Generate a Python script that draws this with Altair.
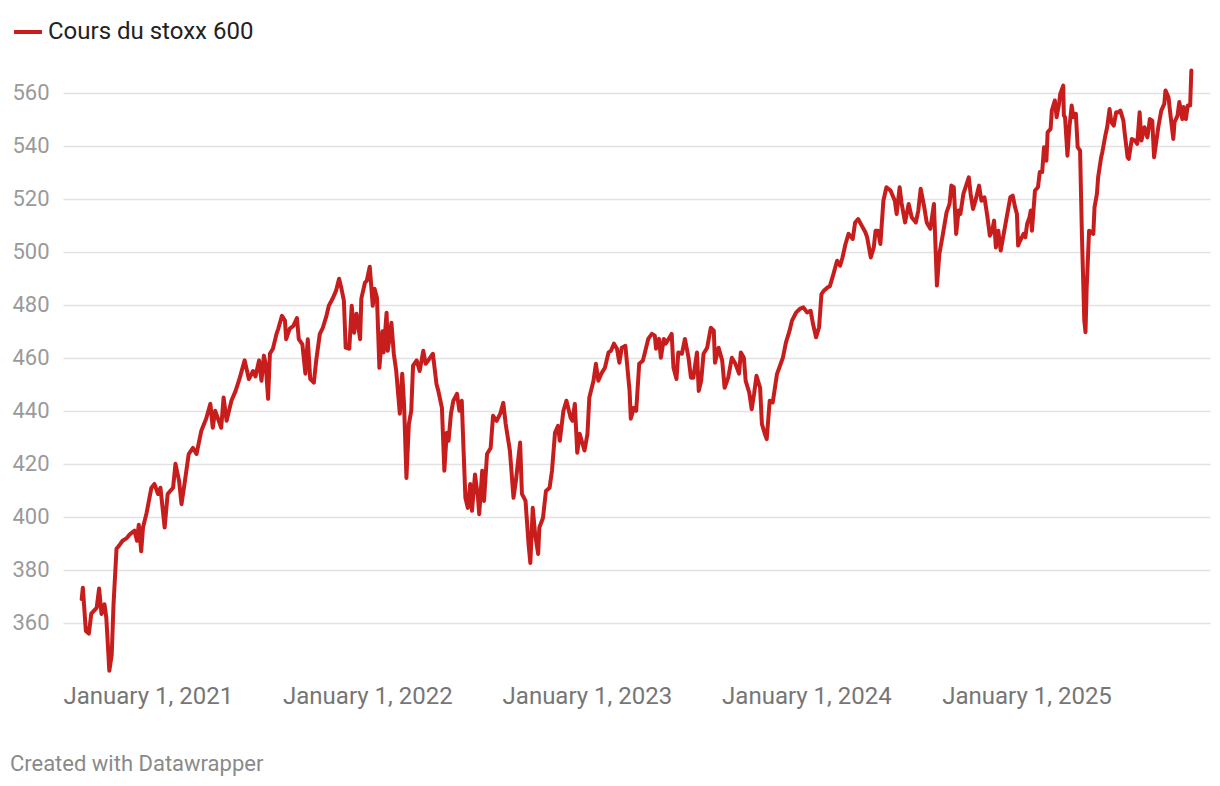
import altair as alt
import pandas as pd

series_name = "Cours du stoxx 600"
credit = "Created with Datawrapper"

dates = [
    # 2020
    "2020-09-13", "2020-09-15", "2020-09-20", "2020-09-25", "2020-09-29", "2020-10-08",
    "2020-10-12", "2020-10-16", "2020-10-21", "2020-10-24", "2020-10-29", "2020-11-02",
    "2020-11-05", "2020-11-10", "2020-11-16", "2020-11-20", "2020-11-27", "2020-12-02",
    "2020-12-10", "2020-12-14", "2020-12-17", "2020-12-21", "2020-12-24", "2020-12-30",
    # 2021
    "2021-01-07", "2021-01-12", "2021-01-18", "2021-01-22", "2021-01-29", "2021-02-03",
    "2021-02-12", "2021-02-16", "2021-02-22", "2021-02-26", "2021-03-03", "2021-03-10",
    "2021-03-17", "2021-03-23", "2021-03-31", "2021-04-08", "2021-04-15", "2021-04-19",
    "2021-04-23", "2021-05-03", "2021-05-07", "2021-05-12", "2021-05-20", "2021-05-27",
    "2021-06-03", "2021-06-11", "2021-06-18", "2021-06-25", "2021-06-29", "2021-07-05",
    "2021-07-09", "2021-07-13", "2021-07-16", "2021-07-20", "2021-07-23", "2021-07-28",
    "2021-08-03", "2021-08-06", "2021-08-12", "2021-08-17", "2021-08-19", "2021-08-25",
    "2021-08-31", "2021-09-06", "2021-09-09", "2021-09-15", "2021-09-20", "2021-09-24",
    "2021-09-28", "2021-10-04", "2021-10-08", "2021-10-14", "2021-10-19", "2021-10-25",
    "2021-10-29", "2021-11-05", "2021-11-10", "2021-11-15", "2021-11-19", "2021-11-23",
    "2021-11-26", "2021-12-02", "2021-12-06", "2021-12-10", "2021-12-14", "2021-12-20",
    "2021-12-22", "2021-12-28", "2021-12-31",
    # 2022
    "2022-01-05", "2022-01-10", "2022-01-13", "2022-01-17", "2022-01-21", "2022-01-26",
    "2022-01-28", "2022-02-02", "2022-02-04", "2022-02-10", "2022-02-14", "2022-02-18",
    "2022-02-24", "2022-02-28", "2022-03-03", "2022-03-07", "2022-03-11", "2022-03-15",
    "2022-03-18", "2022-03-24", "2022-03-29", "2022-04-04", "2022-04-08", "2022-04-14",
    "2022-04-20", "2022-04-26", "2022-04-29", "2022-05-05", "2022-05-09", "2022-05-13",
    "2022-05-16", "2022-05-20", "2022-05-24", "2022-05-30", "2022-06-03", "2022-06-07",
    "2022-06-10", "2022-06-13", "2022-06-17", "2022-06-21", "2022-06-24", "2022-06-29",
    "2022-07-04", "2022-07-06", "2022-07-11", "2022-07-14", "2022-07-19", "2022-07-25",
    "2022-07-29", "2022-08-04", "2022-08-10", "2022-08-15", "2022-08-19", "2022-08-26",
    "2022-09-01", "2022-09-05", "2022-09-12", "2022-09-15", "2022-09-21", "2022-09-26",
    "2022-09-29", "2022-10-03", "2022-10-07", "2022-10-12", "2022-10-14", "2022-10-20",
    "2022-10-25", "2022-10-31", "2022-11-04", "2022-11-09", "2022-11-14", "2022-11-17",
    "2022-11-23", "2022-11-28", "2022-12-05", "2022-12-08", "2022-12-12", "2022-12-16",
    "2022-12-20", "2022-12-28",
    # 2023
    "2023-01-02", "2023-01-05", "2023-01-12", "2023-01-16", "2023-01-20", "2023-01-25",
    "2023-01-31", "2023-02-06", "2023-02-10", "2023-02-15", "2023-02-20", "2023-02-24",
    "2023-02-28", "2023-03-06", "2023-03-08", "2023-03-13", "2023-03-15", "2023-03-20",
    "2023-03-24", "2023-03-29", "2023-04-04", "2023-04-07", "2023-04-13", "2023-04-19",
    "2023-04-24", "2023-04-26", "2023-05-01", "2023-05-04", "2023-05-09", "2023-05-12",
    "2023-05-17", "2023-05-22", "2023-05-25", "2023-05-30", "2023-06-02", "2023-06-08",
    "2023-06-13", "2023-06-19", "2023-06-23", "2023-06-27", "2023-07-03", "2023-07-06",
    "2023-07-10", "2023-07-14", "2023-07-20", "2023-07-26", "2023-07-31", "2023-08-02",
    "2023-08-08", "2023-08-14", "2023-08-18", "2023-08-24", "2023-08-30", "2023-09-05",
    "2023-09-11", "2023-09-14", "2023-09-19", "2023-09-22", "2023-09-28", "2023-10-02",
    "2023-10-06", "2023-10-10", "2023-10-16", "2023-10-19", "2023-10-24", "2023-10-27",
    "2023-11-01", "2023-11-06", "2023-11-13", "2023-11-17", "2023-11-23", "2023-11-28",
    "2023-12-04", "2023-12-08", "2023-12-15", "2023-12-21", "2023-12-27",
    # 2024
    "2024-01-02", "2024-01-08", "2024-01-12", "2024-01-17", "2024-01-22", "2024-01-26",
    "2024-01-30", "2024-02-05", "2024-02-09", "2024-02-15", "2024-02-21", "2024-02-26",
    "2024-03-01", "2024-03-06", "2024-03-11", "2024-03-18", "2024-03-22", "2024-03-27",
    "2024-04-02", "2024-04-08", "2024-04-11", "2024-04-17", "2024-04-22", "2024-04-25",
    "2024-04-29", "2024-05-03", "2024-05-08", "2024-05-13", "2024-05-20", "2024-05-27",
    "2024-05-30", "2024-06-04", "2024-06-07", "2024-06-13", "2024-06-19", "2024-06-24",
    "2024-07-01", "2024-07-05", "2024-07-09", "2024-07-15", "2024-07-19", "2024-07-25",
    "2024-07-31", "2024-08-05", "2024-08-09", "2024-08-15", "2024-08-21", "2024-08-26",
    "2024-08-29", "2024-09-02", "2024-09-06", "2024-09-10", "2024-09-13", "2024-09-18",
    "2024-09-27", "2024-09-30", "2024-10-04", "2024-10-08", "2024-10-14", "2024-10-18",
    "2024-10-23", "2024-10-28", "2024-11-01", "2024-11-05", "2024-11-08", "2024-11-11",
    "2024-11-15", "2024-11-19", "2024-11-25", "2024-11-29", "2024-12-05", "2024-12-09",
    "2024-12-13", "2024-12-16", "2024-12-18", "2024-12-20", "2024-12-27", "2024-12-30",
    # 2025
    "2025-01-02", "2025-01-06", "2025-01-08", "2025-01-10", "2025-01-15", "2025-01-20",
    "2025-01-23", "2025-01-27", "2025-01-30", "2025-02-03", "2025-02-05", "2025-02-10",
    "2025-02-12", "2025-02-17", "2025-02-20", "2025-02-24", "2025-02-26", "2025-03-03",
    "2025-03-04", "2025-03-06", "2025-03-10", "2025-03-13", "2025-03-17", "2025-03-20",
    "2025-03-24", "2025-03-27", "2025-03-31", "2025-04-03", "2025-04-07", "2025-04-09",
    "2025-04-11", "2025-04-15", "2025-04-22", "2025-04-24", "2025-04-28", "2025-04-30",
    "2025-05-05", "2025-05-07", "2025-05-12", "2025-05-15", "2025-05-19", "2025-05-22",
    "2025-05-26", "2025-05-30", "2025-06-03", "2025-06-06", "2025-06-11", "2025-06-13",
    "2025-06-18", "2025-06-20", "2025-06-25", "2025-06-30", "2025-07-04", "2025-07-08",
    "2025-07-11", "2025-07-16", "2025-07-21", "2025-07-25", "2025-07-29", "2025-08-01",
    "2025-08-05", "2025-08-08", "2025-08-13", "2025-08-18", "2025-08-20", "2025-08-25",
    "2025-08-28", "2025-09-02", "2025-09-04", "2025-09-09", "2025-09-12", "2025-09-17",
    "2025-09-19", "2025-09-23", "2025-09-26", "2025-09-30", "2025-10-02",
]

values = [
    # 2020
    369, 373.3, 357, 356, 363.5, 365.7,
    373, 363.4, 367, 362, 342, 348,
    367, 388, 389.7, 391, 392, 393.4,
    394.8, 391, 397, 387, 396, 401.5,
    # 2021
    411, 412.4, 408.6, 411, 396, 408.6,
    411, 420, 413.6, 404.8, 412.4, 423.7,
    426, 423.7, 432.5, 437, 442.6, 433.6,
    440, 433.6, 445, 436.2, 443.8, 447.5,
    452.5, 459, 452, 455, 453, 459,
    451.3, 460.8, 457.7, 444.5, 461.5, 463.4,
    469, 471, 475.8, 474, 467, 471,
    472, 475, 467, 465, 454, 467,
    452, 450.6, 459, 469, 471.3, 475.8,
    479.6, 482.6, 485.3, 489.8, 486, 481.5,
    463.8, 463.4, 479.6, 469.4, 476.6, 467,
    482.3, 488.3, 489,
    # 2022
    494.3, 479.6, 486, 482.6, 456.2, 470,
    462, 477, 462.6, 473.2, 461.5, 455,
    438.9, 454, 442.6, 414.7, 435, 440,
    457, 459, 455, 462.6, 457.7, 459.6,
    461.5, 450, 447.5, 441.1, 417.4, 431.7,
    428.7, 438.9, 443.8, 446.4, 440, 443.8,
    425, 407.2, 403.4, 412.4, 402.3, 416,
    407.2, 401, 417.4, 406, 423.7, 426,
    438.1, 436.2, 438.9, 443, 435, 425,
    407.2, 413.6, 428, 408.7, 406, 389.8,
    382.6, 403.4, 393.4, 386, 396, 399.6,
    409.8, 411, 417.4, 431.7, 434.3, 428.7,
    440, 443.8, 437.4, 436.2, 442.6, 424.2,
    431.3, 425,
    # 2023
    431.3, 444.9, 451.3, 457.7, 451.3, 454,
    456.2, 462, 462.6, 465.3, 463.4, 458.1,
    463.8, 464.5, 459.6, 447.5, 437, 441.1,
    440, 457.7, 458.9, 461.5, 467.1, 469,
    468.3, 463.4, 467.1, 460, 467.1, 465.3,
    467.1, 469, 456.2, 452, 462, 461.5,
    467.1, 460, 452.5, 452.5, 462, 447.5,
    451.3, 461.5, 463.8, 471.3, 470.2, 458.1,
    463.8, 458.9, 448.7, 452.5, 460, 457.7,
    454, 462, 460, 451.3, 446.8, 440.6,
    446.4, 453.2, 448.7, 435, 431.2, 429.3,
    443.8, 443.1, 453.8, 456.3, 460.1, 465.8,
    470.2, 474, 477.1, 478.4, 479,
    # 2024
    477.1, 477.7, 472.7, 467.7, 471.4, 484,
    485.3, 486.5, 487, 491.6, 496.6, 494.7,
    497.8, 502.9, 506.7, 504.8, 511, 512.3,
    509.8, 507.3, 505.4, 497.8, 501.6, 507.9,
    507.9, 502.9, 519.2, 524.3, 523, 519.2,
    514.2, 524.3, 518.6, 511, 518, 513,
    511, 515.5, 523.7, 516.7, 511, 508.6,
    518, 487.2, 499.1, 506.7, 514.8, 518,
    524.9, 524.3, 506.7, 515.5, 514.2, 521.8,
    528, 521.8, 516.1, 519.2, 524.9, 519.2,
    520.5, 513, 506, 507.9, 511.7, 501.6,
    507.9, 500.4, 507.9, 513, 520.5, 521.1,
    516.7, 514.2, 502.3, 503.5, 506.7, 505.4,
    # 2025
    510.5, 513, 515.5, 507.9, 523, 524.3,
    530, 530, 539.4, 534.3, 545, 546.3,
    553.2, 557, 550.7, 555.7, 559.5, 562.6,
    551.3, 550.7, 536.2, 546.3, 555.1, 550.7,
    552, 539.4, 538.1, 506.7, 474, 469.6,
    486.5, 507.9, 506.7, 516.7, 521.8, 528,
    535.6, 537.5, 543.8, 546.9, 553.8, 548.8,
    547.5, 552.6, 552.6, 553.2, 549.4, 545,
    535.6, 535, 542.5, 541.9, 540.6, 552.6,
    541.9, 546.9, 543.1, 550, 549.4, 535.6,
    541.9, 546.9, 553.2, 555.7, 560.8, 558.2,
    552, 542.5, 548.8, 551.3, 556.4, 550,
    554.5, 550, 555.1, 555.1, 568.3,
]

y_ticks = [360, 380, 400, 420, 440, 460, 480, 500, 520, 540, 560]
x_tick_years = [2021, 2022, 2023, 2024, 2025]

df = pd.DataFrame({"date": dates, "value": values})
df["serie"] = series_name

x_ticks = [alt.DateTime(year=yr, month=1, date=1, utc=True) for yr in x_tick_years]
x_domain = [alt.DateTime(year=2020, month=8, date=13, utc=True),
            alt.DateTime(year=2025, month=11, date=2, utc=True)]

FONT = "Roboto"

chart = alt.Chart(df).mark_line(
    strokeWidth=4, strokeJoin="round", strokeCap="round"
).encode(
    x=alt.X(
        "date:T",
        scale=alt.Scale(type="utc", domain=x_domain),
        axis=alt.Axis(
            values=x_ticks,
            labelExpr="utcFormat(datum.value, '%B %-d, %Y')",
            grid=False, ticks=False, domain=False,
            labelFontSize=24, labelColor="#767676", labelFont=FONT,
            labelPadding=8, title=None,
        ),
    ),
    y=alt.Y(
        "value:Q",
        scale=alt.Scale(domain=[340, 570], nice=False, zero=False),
        axis=alt.Axis(
            values=y_ticks,
            grid=True, gridColor="#e2e2e2", gridWidth=1.3,
            ticks=False, domain=False,
            labelFontSize=22, labelColor="#9a9a9a", labelFont=FONT,
            labelPadding=14, labelBaseline="middle", title=None,
        ),
    ),
    color=alt.Color(
        "serie:N",
        scale=alt.Scale(domain=[series_name], range=["#c71e1d"]),
        legend=alt.Legend(
            title=None, orient="none", legendX=-51, legendY=-50,
            symbolType="stroke", symbolStrokeWidth=4, symbolSize=784,
            labelFontSize=24, labelColor="#222222", labelFont=FONT,
            labelOffset=4, labelLimit=0, padding=0,
        ),
    ),
).properties(
    width=1147,
    height=610,
    padding={"left": 55, "top": 58, "right": 2, "bottom": 100},
    autosize=alt.AutoSizeParams(type="none"),
    background="white",
    title=alt.TitleParams(
        credit, orient="bottom", anchor="start", dx=-2, offset=46,
        fontSize=22, fontWeight="normal", color="#8a8a8a", font=FONT,
    ),
).configure_view(
    stroke=None
)

chart.save("out.html", embed_options={"renderer": "svg", "actions": False})
